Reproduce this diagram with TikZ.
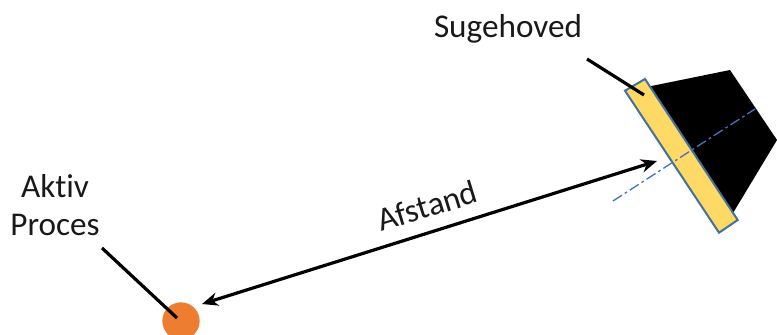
\documentclass[tikz,border=0pt]{standalone}
\usepackage{fontspec}
\setmainfont[Ligatures=NoCommon]{Carlito}
\usetikzlibrary{arrows.meta}
\definecolor{headyellow}{HTML}{FFD966}
\definecolor{headblue}{HTML}{41719C}
\definecolor{axisblue}{HTML}{4472C4}
\definecolor{procorange}{HTML}{ED7D31}
\tikzset{
	lbl/.style={font=\fontsize{24.9}{29}\selectfont,text=black!90,inner sep=0pt,align=center},
	pointer/.style={line width=2.4pt,black},
	dist/.style={pointer,{Stealth[length=12pt,width=10pt]}-{Stealth[length=12pt,width=10pt]}},
	axisline/.style={axisblue,line width=1pt,dash pattern=on 8pt off 2.5pt on 2pt off 2.5pt}
}
\begin{document}
\begin{tikzpicture}[x=.75pt,y=-.75pt]
	\useasboundingbox(0,0)rectangle(777,335);
	\fill[black](648,86.7)--(730,70)--(777,140)--(733,213)--cycle;
	\draw[headblue,line width=1.5pt,fill=headyellow](625,90.7)--(645,79)--(737.7,220)--(719,232.7)--cycle;
	\coordinate (axisA) at (613,201);
	\coordinate (axisB) at (755,109);
	\draw[axisline](axisA)--(axisB);
	\node[circle,fill=procorange,minimum size=28pt,inner sep=0pt] (proces) at (181,321) {};
	\node[lbl] (suge) at (508,29) {Sugehoved};
	\node[lbl] (aktiv) at (55,205) {Aktiv\\Proces};
	\node[lbl,rotate=17] (afstand) at (427,206) {Afstand};
	\coordinate (sugeA) at (587,59);
	\coordinate (sugeB) at (644,95);
	\coordinate (aktivA) at (102,248);
	\coordinate (aktivB) at (177,318);
	\coordinate (distA) at (202,304);
	\coordinate (distB) at (657,161);
	\draw[pointer](sugeA)--(sugeB);
	\draw[pointer](aktivA)--(aktivB);
	\draw[dist](distA)--(distB);
\end{tikzpicture}
\end{document}
